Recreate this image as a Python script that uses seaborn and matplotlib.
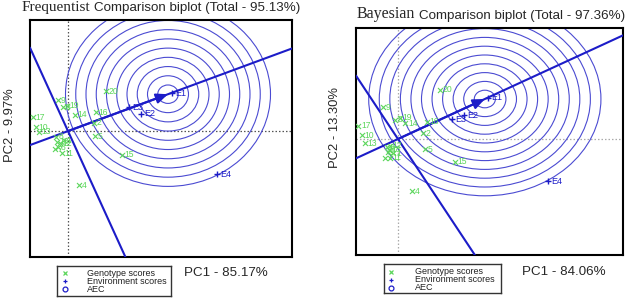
import matplotlib
matplotlib.use("Agg")
import matplotlib.pyplot as plt
import seaborn as sns
import pandas as pd
from matplotlib.patches import Circle

# genotype scores (G1..G20)
geno_labels = [str(i) for i in range(1, 21)]
gx_freq = [-0.08, 0.52, -0.10, 0.22, 0.54, -0.20, -0.26, -0.24, -0.20, -0.64,
           -0.12, -0.16, -0.58, 0.14, 1.08, 0.56, -0.70, -0.22, -0.02, 0.76]
gy_freq = [-0.20, 0.18, 0.53, -1.20, -0.11, -0.36, -0.40, -0.13, 0.69, 0.09,
           -0.49, -0.27, -0.02, 0.36, -0.53, 0.42, 0.31, -0.24, 0.56, 0.89]
gx_bayes = [-0.10, 0.52, -0.06, 0.29, 0.56, -0.21, -0.27, -0.23, -0.31, -0.75,
            -0.17, -0.17, -0.69, 0.15, 1.19, 0.60, -0.83, -0.19, 0.04, 0.875]
gy_bayes = [-0.35, 0.15, 0.475, -1.30, -0.25, -0.325, -0.475, -0.20, 0.80, 0.10,
            -0.475, -0.175, -0.10, 0.40, -0.575, 0.425, 0.325, -0.275, 0.525, 1.225]

# environment scores
env_labels = ["E1", "E2", "E3", "E4"]
ex_freq = [2.08, 1.46, 1.22, 2.98]
ey_freq = [0.84, 0.38, 0.53, -0.96]
ex_bayes = [1.875, 1.375, 1.125, 3.125]
ey_bayes = [1.025, 0.60, 0.50, -1.05]

# average environment coordinate (arrow head / ring centre)
aec_freq = (2.0, 0.82)
aec_bayes = (1.81, 1.0)
rings_freq = [0.205, 0.41, 0.615, 0.82, 1.025, 1.23, 1.435, 1.64, 1.845, 2.05]
rings_bayes = [0.22, 0.44, 0.66, 0.88, 1.10, 1.32, 1.54, 1.76, 1.98, 2.20, 2.42]

GREEN = "#5cd65c"
BLUE = "#1c1cc8"
RING = "#4b4bd2"
SANS = "Liberation Sans"
SERIF = "Liberation Serif"

sns.set_style("white")
plt.rcParams["font.family"] = [SANS, "DejaVu Sans"]

fig = plt.figure(figsize=(6.3, 3.01), dpi=100)


def px(x0, y0, x1, y1):
    return [x0 / 630, 1 - y1 / 301, (x1 - x0) / 630, (y1 - y0) / 301]


def draw_panel(ax, gx, gy, ex, ey, aec, rings, xlim, ylim, dot_color):
    for r in rings:
        ax.add_patch(Circle(aec, r, fill=False, ec=RING, lw=0.8, zorder=2))
    ax.axvline(0, color=dot_color, ls=(0, (1.2, 1.6)), lw=0.9, zorder=1)
    ax.axhline(0, color=dot_color, ls=(0, (1.2, 1.6)), lw=0.9, zorder=1)
    ax.axline((0, 0), aec, color=BLUE, lw=1.5, zorder=3)
    ax.axline((0, 0), (-aec[1], aec[0]), color=BLUE, lw=1.5, zorder=3)
    ax.annotate("", xy=aec, xytext=(0, 0),
                arrowprops=dict(arrowstyle="-|>,head_length=0.7,head_width=0.3",
                                color=BLUE, lw=1.5, shrinkA=0, shrinkB=0), zorder=4)

    gdf = pd.DataFrame({"x": gx, "y": gy, "lab": geno_labels})
    edf = pd.DataFrame({"x": ex, "y": ey, "lab": env_labels})
    sns.scatterplot(data=gdf, x="x", y="y", marker="x", s=13, color=GREEN,
                    linewidth=0.8, ax=ax, zorder=5, legend=False)
    sns.scatterplot(data=edf, x="x", y="y", marker="+", s=24, color=BLUE,
                    linewidth=1.0, ax=ax, zorder=5, legend=False)
    for _, row in gdf.iterrows():
        ax.annotate(row["lab"], (row["x"], row["y"]), xytext=(2, 0),
                    textcoords="offset points", va="center", ha="left",
                    fontsize=6.2, color=GREEN, zorder=6)
    for _, row in edf.iterrows():
        ax.annotate(row["lab"], (row["x"], row["y"]), xytext=(2.5, 0),
                    textcoords="offset points", va="center", ha="left",
                    fontsize=6.5, color=BLUE, zorder=6)

    ax.set_xlim(*xlim)
    ax.set_ylim(*ylim)
    ax.set_xticks([])
    ax.set_yticks([])
    ax.set_xlabel("")
    ax.set_ylabel("")
    for sp in ax.spines.values():
        sp.set_color("black")
        sp.set_linewidth(1.5)
        sp.set_visible(True)


def draw_legend(box, marker_x, text_x, rows):
    lax = fig.add_axes(px(*box))
    lax.set_xlim(box[0], box[2])
    lax.set_ylim(box[3], box[1])
    lax.set_xticks([])
    lax.set_yticks([])
    for sp in lax.spines.values():
        sp.set_color("#333333")
        sp.set_linewidth(1.0)
    items = [("x", GREEN, "Genotype scores"),
             ("+", BLUE, "Environment scores"),
             ("o", BLUE, "AEC")]
    for (m, c, t), y in zip(items, rows):
        lax.plot([marker_x], [y], marker=m, color=c, ms=3.5, mew=0.9,
                 mfc="none", ls="none")
        lax.text(text_x, y, t, fontsize=6.5, va="center", ha="left", color="#222222")


# left panel: frequentist
ax1 = fig.add_axes(px(30, 20, 292, 257))
draw_panel(ax1, gx_freq, gy_freq, ex_freq, ey_freq, aec_freq, rings_freq,
           (-0.76, 4.48), (-2.8, 2.47), "#555555")

# right panel: bayesian
ax2 = fig.add_axes(px(356, 28, 623, 255))
draw_panel(ax2, gx_bayes, gy_bayes, ex_bayes, ey_bayes, aec_bayes, rings_bayes,
           (-0.875, 4.69), (-2.9, 2.775), "#aaaaaa")

# titles: serif word + sans rest
fig.text(90 / 630, 1 - 11.5 / 301, "Frequentist", family=SERIF, fontsize=11,
         ha="right", va="baseline")
fig.text(94 / 630, 1 - 11.5 / 301, "Comparison biplot (Total - 95.13%)",
         fontsize=9.6, ha="left", va="baseline")
fig.text(415 / 630, 1 - 18.5 / 301, "Bayesian", family=SERIF, fontsize=11.5,
         ha="right", va="baseline")
fig.text(419 / 630, 1 - 18.5 / 301, "Comparison biplot (Total - 97.36%)",
         fontsize=9.6, ha="left", va="baseline")

# axis labels
fig.text(10 / 630, 1 - 125 / 301, "PC2 - 9.97%", rotation=90, fontsize=9.4,
         ha="center", va="center")
fig.text(335 / 630, 1 - 128 / 301, "PC2 - 13.30%", rotation=90, fontsize=9.4,
         ha="center", va="center")
fig.text(184 / 630, 1 - 273 / 301, "PC1 - 85.17%", fontsize=9.6,
         ha="left", va="center")
fig.text(522 / 630, 1 - 272 / 301, "PC1 - 84.06%", fontsize=9.6,
         ha="left", va="center")

# legends
draw_legend((57, 266, 171, 296), 65, 87, [273, 281, 289])
draw_legend((384, 264, 501, 293), 391, 415, [271.5, 279.5, 287.5])

fig.savefig("out.png", dpi=100)
